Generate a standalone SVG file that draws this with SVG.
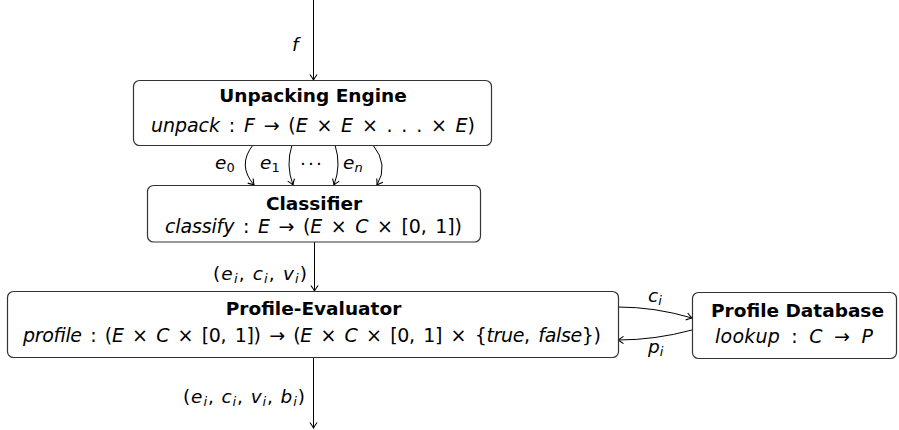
<svg xmlns="http://www.w3.org/2000/svg" width="899" height="430" viewBox="0 0 899 430">
<style>
.box{fill:#fff;stroke:#333;stroke-width:1.2}
.t{font-family:"DejaVu Sans","Liberation Sans",sans-serif;font-size:18.5px;fill:#000}
.m{font-size:19px;word-spacing:2.8px}
.b{font-weight:bold}
.i{font-style:italic}
.sub{font-size:13px}
.conn{fill:none;stroke:#000;stroke-width:1;marker-end:url(#arr)}
</style>
<defs>
<marker id="arr" markerUnits="userSpaceOnUse" markerWidth="12" markerHeight="12" viewBox="-8 -6 10 12" refX="0" refY="0" orient="auto" overflow="visible">
<path d="M-5.5,-3.6 Q-2,-1 0,0 Q-2,1 -5.5,3.6" fill="none" stroke="#000" stroke-width="1.1"/>
</marker>
</defs>
<g id="connectors">
<path class="conn" d="M313.5,0 L313.5,80"/>
<path class="conn" d="M253,145 Q237,165 254,185"/>
<path class="conn" d="M292,145 Q285.5,165 293,185"/>
<path class="conn" d="M335,145 Q341.5,165 334,185"/>
<path class="conn" d="M373,145 Q389,165 377,185"/>
<path class="conn" d="M314.5,242 L314.5,291"/>
<path class="conn" d="M313.5,357 L313.5,428"/>
<path class="conn" d="M618,307 Q655,307 692,318"/>
<path class="conn" d="M692,330 Q655,340 618,340"/>
</g>
<g id="labels">
<text class="t i" x="292" y="51">f</text>
<text class="t" x="215" y="169"><tspan class="i">e</tspan><tspan class="sub" dy="3">0</tspan></text>
<text class="t" x="260" y="169"><tspan class="i">e</tspan><tspan class="sub" dy="3">1</tspan></text>
<text class="t" x="300" y="170" textLength="22" lengthAdjust="spacing">· · ·</text>
<text class="t" x="343" y="169"><tspan class="i">e</tspan><tspan class="sub i" dy="3">n</tspan></text>
<text class="t" x="213" y="280" textLength="94" lengthAdjust="spacing">(<tspan class="i">e</tspan><tspan class="sub i" dy="3">i</tspan><tspan dy="-3">, </tspan><tspan class="i">c</tspan><tspan class="sub i" dy="3">i</tspan><tspan dy="-3">, </tspan><tspan class="i">v</tspan><tspan class="sub i" dy="3">i</tspan><tspan dy="-3">)</tspan></text>
<text class="t" x="183" y="403" textLength="122" lengthAdjust="spacing">(<tspan class="i">e</tspan><tspan class="sub i" dy="3">i</tspan><tspan dy="-3">, </tspan><tspan class="i">c</tspan><tspan class="sub i" dy="3">i</tspan><tspan dy="-3">, </tspan><tspan class="i">v</tspan><tspan class="sub i" dy="3">i</tspan><tspan dy="-3">, </tspan><tspan class="i">b</tspan><tspan class="sub i" dy="3">i</tspan><tspan dy="-3">)</tspan></text>
<text class="t" x="648" y="302"><tspan class="i">c</tspan><tspan class="sub i" dy="3">i</tspan></text>
<text class="t" x="648" y="353"><tspan class="i">p</tspan><tspan class="sub i" dy="3">i</tspan></text>
</g>
<g id="unpacking-engine">
<rect class="box" x="133.5" y="80.5" width="358" height="65" rx="6"/>
<text class="t b" x="313" y="102" text-anchor="middle">Unpacking Engine</text>
<text class="t m" x="151" y="132" textLength="324" lengthAdjust="spacing"><tspan class="i">unpack</tspan> : <tspan class="i">F</tspan> → (<tspan class="i">E</tspan> × <tspan class="i">E</tspan> × . . . × <tspan class="i">E</tspan>)</text>
</g>
<g id="classifier">
<rect class="box" x="147.5" y="185.5" width="333" height="56.5" rx="6"/>
<text class="t b" x="314" y="210" text-anchor="middle">Classifier</text>
<text class="t m" x="165" y="233" textLength="297" lengthAdjust="spacing"><tspan class="i">classify</tspan> : <tspan class="i">E</tspan> → (<tspan class="i">E</tspan> × <tspan class="i">C</tspan> × [0, 1])</text>
</g>
<g id="profile-evaluator">
<rect class="box" x="7.5" y="291.5" width="611" height="66" rx="6"/>
<text class="t b" x="313.5" y="315" text-anchor="middle">Profile-Evaluator</text>
<text class="t m" x="23" y="342" textLength="578" lengthAdjust="spacing"><tspan class="i">profile</tspan> : (<tspan class="i">E</tspan> × <tspan class="i">C</tspan> × [0, 1]) → (<tspan class="i">E</tspan> × <tspan class="i">C</tspan> × [0, 1] × {<tspan class="i">true</tspan>, <tspan class="i">false</tspan>})</text>
</g>
<g id="profile-database">
<rect class="box" x="692.5" y="292.5" width="204" height="66" rx="6"/>
<text class="t b" x="797.5" y="317" text-anchor="middle">Profile Database</text>
<text class="t m" x="715" y="343" textLength="158" lengthAdjust="spacing" style="word-spacing:5px"><tspan class="i">lookup</tspan> : <tspan class="i">C</tspan> → <tspan class="i">P</tspan></text>
</g>
</svg>
